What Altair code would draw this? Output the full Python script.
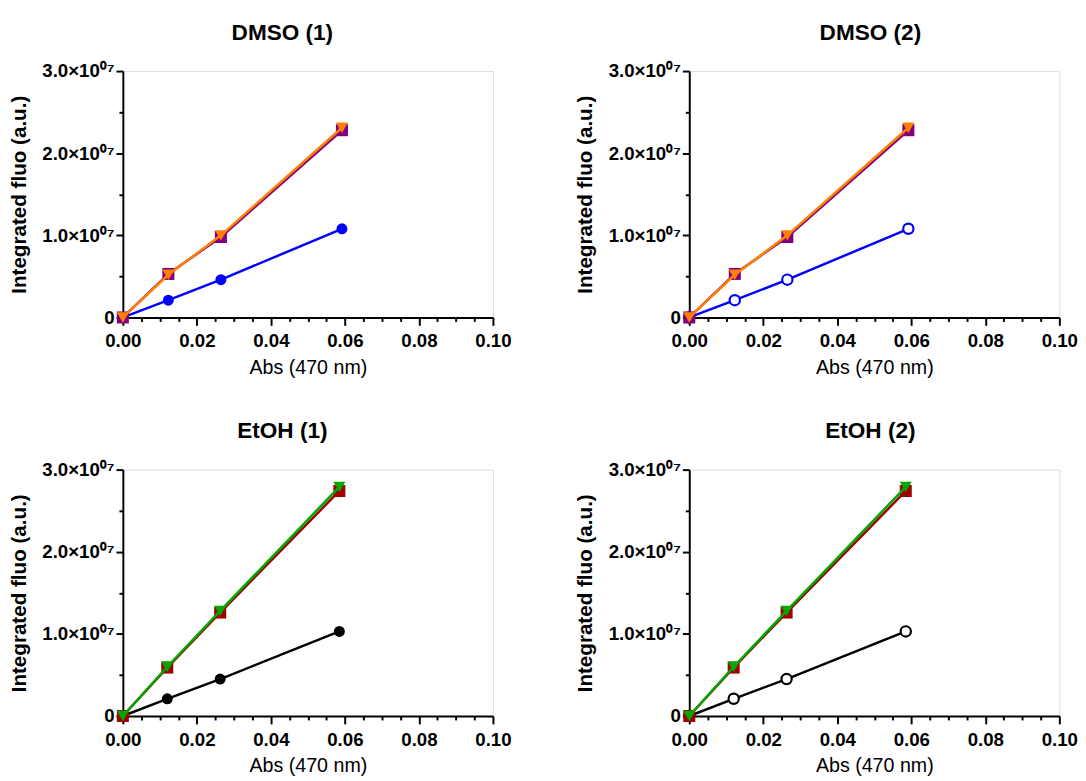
import altair as alt
import pandas as pd

# ---- data ----
abs_dmso = [0.0, 0.0123, 0.0265, 0.0592]
dmso_ref = [0.0, 2.1e6, 4.6e6, 1.08e7]      # blue circles
dmso_sq = [0.0, 5.3e6, 9.8e6, 2.28e7]       # purple squares
dmso_tri = [0.0, 5.2e6, 1.0e7, 2.31e7]      # orange triangles

abs_etoh = [0.0, 0.0120, 0.0263, 0.0585]
etoh_ref = [0.0, 2.1e6, 4.5e6, 1.03e7]      # black circles
etoh_sq = [0.0, 5.9e6, 1.26e7, 2.74e7]      # red squares
etoh_tri = [0.0, 6.0e6, 1.28e7, 2.79e7]     # green triangles

x_ticks = [0.0, 0.005, 0.01, 0.015, 0.02, 0.025, 0.03, 0.035, 0.04, 0.045,
           0.05, 0.055, 0.06, 0.065, 0.07, 0.075, 0.08, 0.085, 0.09, 0.095, 0.1]
y_ticks = [0, 5e6, 1e7, 1.5e7, 2e7, 2.5e7, 3e7]

panel_titles = ["DMSO (1)", "DMSO (2)", "EtOH (1)", "EtOH (2)"]
x_title = "Abs (470 nm)"
y_title = "Integrated fluo (a.u.)"

FONT = "Liberation Sans"
PW, PH = 377, 251

x_major = "abs(round(datum.value*50) - datum.value*50) < 0.001"
y_major = "abs(round(datum.value/1e7) - datum.value/1e7) < 0.001"

x_axis = alt.Axis(
    values=x_ticks, grid=False,
    labelExpr=f"{x_major} ? format(datum.value, '.2f') : ''",
    tickSize={"condition": {"test": x_major, "value": 8}, "value": 4},
    tickWidth=2, tickColor="black", domainWidth=2, domainColor="black",
    labelFont=FONT, labelFontSize=19, labelFontWeight="bold", labelColor="black",
    labelPadding=7, labelFlush=False, labelOverlap=False,
    titleFont=FONT, titleFontSize=20, titleFontWeight="normal", titleColor="black",
    titlePadding=7,
)
y_axis = alt.Axis(
    values=y_ticks, grid=False,
    labelExpr=(f"datum.value == 0 ? '0' : ({y_major} ? "
               "format(datum.value/1e7, '.1f') + '×10⁰⁷' : '')"),
    tickSize={"condition": {"test": y_major, "value": 7}, "value": 4},
    tickWidth=2, tickColor="black", domainWidth=2, domainColor="black",
    labelFont=FONT, labelFontSize=19, labelFontWeight="bold", labelColor="black",
    labelPadding=2, labelFlush=False, labelOverlap=False,
    titleFont=FONT, titleFontSize=21, titleFontWeight="bold", titleColor="black",
    titlePadding=13,
)


def panel(title, xs, series, dx):
    layers = []
    for vals, color, shape, open_marker, size in series:
        df = pd.DataFrame({"abs": xs, "fluo": vals})
        base = alt.Chart(df).encode(
            x=alt.X("abs:Q", title=x_title, axis=x_axis,
                    scale=alt.Scale(domain=[0, 0.1], nice=False)),
            y=alt.Y("fluo:Q", title=y_title, axis=y_axis,
                    scale=alt.Scale(domain=[0, 3e7], nice=False)),
        )
        layers.append(base.mark_line(color=color, strokeWidth=2.5, clip=False))
        if open_marker:
            layers.append(base.mark_point(shape=shape, filled=True, fill="white",
                                          stroke=color, strokeWidth=2.2, size=110,
                                          opacity=1, clip=False))
        else:
            layers.append(base.mark_point(shape=shape, filled=True, color=color,
                                          size=size, opacity=1, clip=False))
    return alt.layer(*layers).properties(
        width=PW, height=PH,
        title=alt.TitleParams(title, font=FONT, fontSize=23, fontWeight="bold",
                              color="black", anchor="middle", offset=18, dx=dx),
    )


def dmso(open_ref):
    return [
        (dmso_ref, "#0000FF", "circle", open_ref, 125),
        (dmso_sq, "#800080", "square", False, 150),
        (dmso_tri, "#FF8000", "triangle-down", False, 150),
    ]


def etoh(open_ref):
    return [
        (etoh_ref, "#000000", "circle", open_ref, 125),
        (etoh_sq, "#A00000", "square", False, 150),
        (etoh_tri, "#00A800", "triangle-down", False, 150),
    ]


p1 = panel(panel_titles[0], abs_dmso, dmso(False), -26)
p2 = panel(panel_titles[1], abs_dmso, dmso(True), -4)
p3 = panel(panel_titles[2], abs_etoh, etoh(False), -26)
p4 = panel(panel_titles[3], abs_etoh, etoh(True), -4)

chart = alt.vconcat(
    alt.hconcat(p1, p2, spacing=64),
    alt.hconcat(p3, p4, spacing=64),
    spacing=42,
).properties(
    padding={"left": 0, "top": 6, "right": 0, "bottom": 0},
).configure_view(stroke=None).configure(background="white")

chart.save("out.html", embed_options={"renderer": "svg", "actions": False})
